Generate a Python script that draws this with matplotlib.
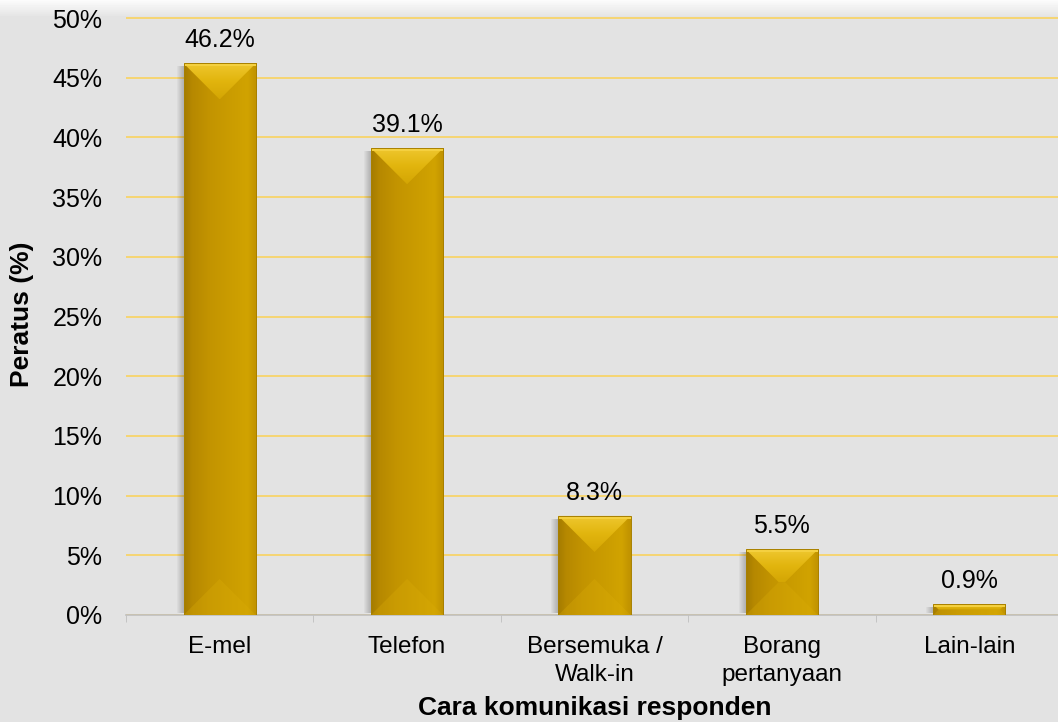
import numpy as np
import matplotlib.pyplot as plt
from matplotlib.colors import LinearSegmentedColormap
from matplotlib.patches import Polygon, Rectangle

categories = ["E-mel", "Telefon", "Bersemuka /\nWalk-in", "Borang\npertanyaan", "Lain-lain"]
values = [46.2, 39.1, 8.3, 5.5, 0.9]
yticks = [0, 5, 10, 15, 20, 25, 30, 35, 40, 45, 50]

plt.rcParams['font.family'] = ['Liberation Sans', 'DejaVu Sans']

W, H = 1058, 722
fig = plt.figure(figsize=(W / 100, H / 100), dpi=100)
fig.patch.set_facecolor('#e4e4e4')

# page background: light band at the very top fading into grey
bg = fig.add_axes([0, 0, 1, 1], zorder=-10)
rows = np.arange(H)
fade = np.clip(rows / 16.0, 0, 1)
shade = 0.985 * (1 - fade) + 0.894 * fade
bg.imshow(shade[:, None], cmap='gray', vmin=0, vmax=1, aspect='auto', extent=[0, 1, 0, 1])
bg.axis('off')

ppu = 11.94  # pixels per percent
ytop = 50.4
ax = fig.add_axes([126 / W, (H - 615) / H, 937 / W, ytop * ppu / H])
ax.patch.set_alpha(0)

x = np.arange(len(categories))
bw = 0.385
bars = ax.bar(x, values, width=bw, color='none', edgecolor='none', zorder=3)

ax.set_xlim(-0.5, len(categories) - 0.5)
ax.set_ylim(0, ytop)

# pixel size of one data unit
p0, p1 = ax.transData.transform([[0, 0], [1, 1]])
px, py = p1 - p0

body = LinearSegmentedColormap.from_list('body', [
    (0.0, '#a47c00'), (0.1, '#b68800'), (0.35, '#c39400'),
    (0.7, '#cc9e00'), (0.88, '#d1a300'), (1.0, '#c09200')])
cap = LinearSegmentedColormap.from_list('cap', ['#d4a604', '#e2b50e', '#efc830'])

for b in bars:
    bx, bwid, bh = b.get_x(), b.get_width(), b.get_height()

    # soft shadow on the left, fading outwards
    for k in range(1, 8):
        ax.add_patch(Rectangle((bx - k / px, 0.2), bwid, bh - 0.45,
                               color='black', alpha=0.03, lw=0, zorder=2))

    im = ax.imshow(np.linspace(0, 1, 64)[None, :], cmap=body, aspect='auto',
                   extent=[bx, bx + bwid, 0, bh], zorder=3)
    im.set_clip_path(b)

    d = min(bwid * px / 2, bh * py / 2)
    dx, dy = d / px, d / py

    top = Polygon([(bx, bh), (bx + bwid, bh), (bx + bwid - dx, bh - dy), (bx + dx, bh - dy)],
                  closed=True, facecolor='none', edgecolor='none', zorder=4)
    ax.add_patch(top)
    tim = ax.imshow(np.linspace(0, 1, 64)[:, None][::-1], cmap=cap, aspect='auto',
                    extent=[bx, bx + bwid, bh - dy, bh], zorder=4)
    tim.set_clip_path(top)

    ax.add_patch(Polygon([(bx, 0), (bx + bwid, 0), (bx + bwid - dx, dy), (bx + dx, dy)],
                         closed=True, facecolor='#dcae08', alpha=0.3, lw=0, zorder=4))

    hl = min(3 / py, bh * 0.3)
    ax.add_patch(Rectangle((bx, bh - hl), bwid, hl, color='#f4d040', lw=0, zorder=5))
    ax.add_patch(Rectangle((bx, 0), bwid, bh, facecolor='none',
                           edgecolor='#a88000', lw=0.7, zorder=6))

    ax.annotate(f"{b.get_height():.1f}%", (bx + bwid / 2, bh), xytext=(0, 8),
                textcoords='offset points', ha='center', va='bottom', fontsize=18)

ax.set_yticks(yticks)
ax.set_yticklabels([f"{t}%" for t in yticks])
ax.grid(axis='y', color='#f7d46a', lw=1.3)
ax.set_axisbelow(True)

ax.set_xticks(x)
ax.set_xticklabels(categories, fontsize=17.5, linespacing=1.35)
ax.set_xticks(np.arange(-0.5, len(categories)), minor=True)
ax.tick_params(axis='x', which='major', length=0, pad=15)
ax.tick_params(axis='x', which='minor', length=5, color='#bfbfbf')
ax.tick_params(axis='y', length=0, pad=17, labelsize=18)

for s in ['top', 'right', 'left']:
    ax.spines[s].set_visible(False)
ax.spines['bottom'].set_color('#bfbfbf')
ax.spines['bottom'].set_linewidth(1.2)

fig.text(594.5 / W, 1 - 708 / H, "Cara komunikasi responden", ha='center', va='center',
         fontsize=19, fontweight='bold')
fig.text(22 / W, 1 - 314 / H, "Peratus (%)", ha='center', va='center', rotation=90,
         fontsize=19, fontweight='bold')

fig.savefig('out.png', dpi=100, facecolor=fig.get_facecolor())
